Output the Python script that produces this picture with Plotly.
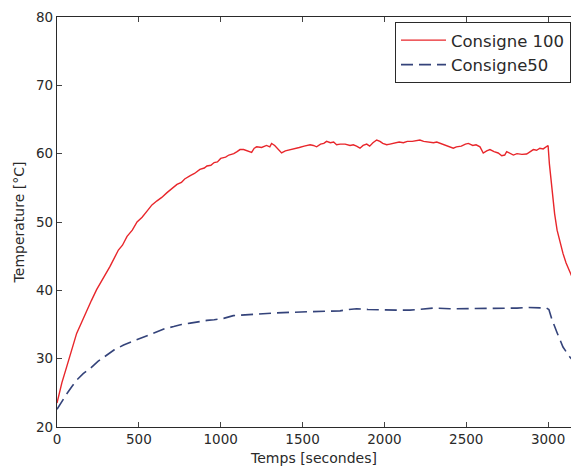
import plotly.graph_objects as go

# Consigne 100 (red, solid)
t_red = [0, 30, 59, 90, 120, 150, 181, 210, 242, 280, 324, 375, 400, 428, 460, 489, 520, 550, 580, 611,
         640, 672, 700, 733, 760, 780, 814, 840, 873, 900, 916, 940, 960, 980, 1000, 1030, 1050, 1080,
         1100, 1118, 1140, 1160, 1189, 1205, 1220, 1250, 1280, 1300, 1311, 1330, 1350, 1372, 1395, 1423,
         1450, 1480, 1510, 1546, 1566, 1586, 1610, 1630, 1647, 1670, 1690, 1708, 1730, 1760, 1790, 1810,
         1830, 1851, 1870, 1892, 1910, 1930, 1953, 1973, 1990, 2014, 2034, 2060, 2090, 2116, 2140, 2170,
         2195, 2217, 2240, 2270, 2300, 2320, 2340, 2360, 2390, 2421, 2440, 2470, 2495, 2513, 2540, 2560,
         2584, 2604, 2625, 2645, 2670, 2695, 2717, 2735, 2747, 2770, 2788, 2810, 2840, 2869, 2890, 2910,
         2930, 2950, 2970, 2991, 3000, 3008, 3021, 3040, 3055, 3075, 3091, 3110, 3134, 3160]
temp_red = [23.5, 26.5, 28.8, 31.4, 33.7, 35.3, 37.1, 38.5, 40.1, 41.7, 43.5, 45.9, 46.6, 47.9, 48.8, 50.0,
            50.7, 51.6, 52.5, 53.1, 53.6, 54.3, 54.8, 55.5, 55.8, 56.3, 56.8, 57.1, 57.7, 57.9, 58.2, 58.3,
            58.7, 58.8, 59.3, 59.5, 59.8, 60.0, 60.3, 60.6, 60.6, 60.4, 60.2, 60.8, 61.0, 60.9, 61.2, 61.0,
            61.5, 61.2, 60.6, 60.1, 60.4, 60.6, 60.8, 60.9, 61.1, 61.3, 61.2, 61.0, 61.4, 61.5, 61.8, 61.6,
            61.7, 61.3, 61.4, 61.4, 61.2, 61.3, 61.1, 60.8, 61.2, 61.4, 61.1, 61.6, 62.0, 61.8, 61.5, 61.3,
            61.4, 61.5, 61.7, 61.6, 61.8, 61.8, 61.9, 62.0, 61.8, 61.7, 61.6, 61.7, 61.5, 61.4, 61.1, 60.8,
            61.0, 61.1, 61.4, 61.5, 61.2, 61.3, 61.0, 60.1, 60.4, 60.6, 60.3, 60.1, 59.7, 59.8, 60.3, 60.0,
            59.8, 60.0, 59.9, 59.95, 60.3, 60.6, 60.5, 60.8, 60.7, 61.1, 61.2, 58.5, 55.2, 51.2, 48.8, 46.8,
            45.4, 44.0, 42.5, 41.2]

# Consigne50 (blue, dashed)
t_blue = [0, 30, 61, 90, 122, 160, 204, 250, 305, 350, 407, 460, 509, 560, 611, 660, 713, 760, 814, 860,
          916, 960, 1018, 1077, 1130, 1179, 1250, 1342, 1450, 1546, 1640, 1729, 1780, 1831, 1900, 1994,
          2080, 2156, 2230, 2299, 2400, 2543, 2650, 2747, 2810, 2869, 2940, 2991, 3005, 3024, 3055, 3091,
          3134, 3160]
temp_blue = [22.6, 23.8, 24.9, 25.9, 26.9, 27.8, 28.6, 29.6, 30.5, 31.3, 32.0, 32.5, 33.0, 33.5, 34.0,
             34.4, 34.7, 35.0, 35.2, 35.4, 35.6, 35.7, 35.9, 36.3, 36.4, 36.4, 36.6, 36.7, 36.8, 36.9,
             37.0, 37.0, 37.2, 37.3, 37.2, 37.1, 37.1, 37.1, 37.3, 37.4, 37.3, 37.3, 37.3, 37.3, 37.4,
             37.5, 37.4, 37.4, 37.2, 35.7, 33.8, 31.7, 30.2, 29.5]

x_ticks = [0, 500, 1000, 1500, 2000, 2500, 3000]
y_ticks = [20, 30, 40, 50, 60, 70, 80]

FONT = "DejaVu Sans"
INK = "#2a2a2a"

fig = go.Figure()
fig.add_trace(go.Scatter(x=t_red, y=temp_red, mode="lines", name="Consigne 100",
                         line=dict(color="#e8262b", width=1.4)))
fig.add_trace(go.Scatter(x=t_blue, y=temp_blue, mode="lines", name="Consigne50",
                         line=dict(color="#34437a", width=1.6, dash="12px,6px")))

fig.update_layout(
    width=571, height=466,
    margin=dict(l=57, r=0, t=17, b=39),
    paper_bgcolor="white", plot_bgcolor="white",
    font=dict(family=FONT, color=INK, size=13),
    showlegend=True,
    legend=dict(x=0.658, y=0.988, xanchor="left", yanchor="top",
                bgcolor="white", bordercolor=INK, borderwidth=1,
                itemwidth=45, tracegroupgap=0,
                font=dict(family=FONT, size=16.5, color=INK)),
    xaxis=dict(range=[0, 3140], tickvals=x_ticks, ticks="inside", ticklen=5,
               showline=True, linecolor=INK, linewidth=1.2, mirror="ticks",
               showgrid=False, zeroline=False, tickfont=dict(size=13.5),
               automargin=False,
               title=dict(text="Temps [secondes]", font=dict(size=14), standoff=7)),
    yaxis=dict(range=[20, 80], tickvals=y_ticks, ticks="inside", ticklen=5,
               showline=True, linecolor=INK, linewidth=1.2,
               showgrid=False, zeroline=False, tickfont=dict(size=13.5),
               automargin=False,
               title=dict(text="Temperature [°C]", font=dict(size=14), standoff=8)),
)

fig.write_html("out.html", config={"displayModeBar": False},
               post_script="document.body.style.margin='0';document.body.style.overflow='hidden';")
